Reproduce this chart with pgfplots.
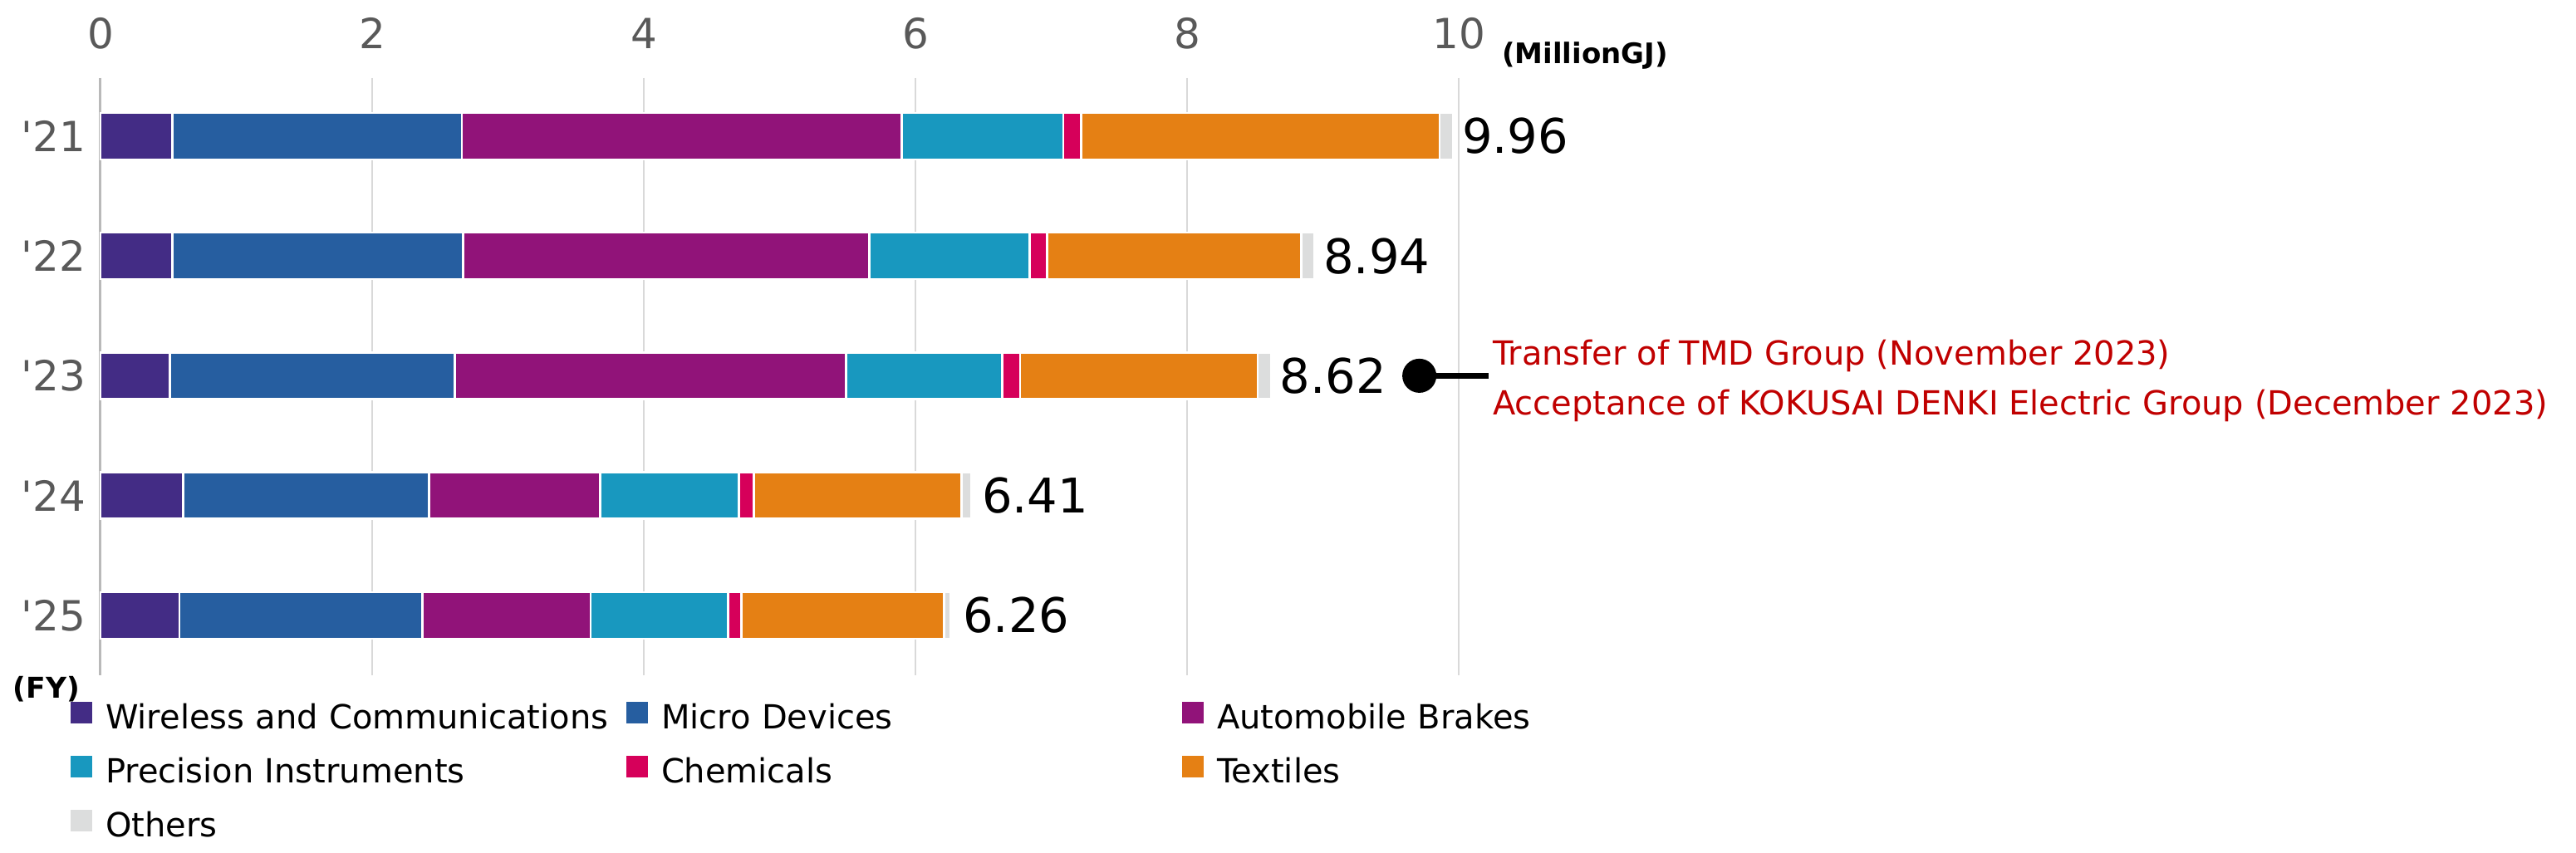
\documentclass[border=0pt]{standalone}
\usepackage{fontspec}
\setmainfont{DejaVu Sans}[Ligatures=TeXOff]
\usepackage{pgfplots}
\usepackage{pgfplotstable}
\pgfplotsset{compat=1.18}

\definecolor{cWC}{RGB}{67,44,133}
\definecolor{cMD}{RGB}{38,94,160}
\definecolor{cAB}{RGB}{145,19,121}
\definecolor{cPI}{RGB}{24,152,191}
\definecolor{cCH}{RGB}{214,0,90}
\definecolor{cTX}{RGB}{229,128,20}
\definecolor{cOT}{RGB}{220,221,221}
\definecolor{tickgray}{RGB}{89,89,89}
\definecolor{gridgray}{RGB}{217,217,217}
\definecolor{annred}{RGB}{192,0,0}

% energy use by segment, million GJ ('21 .. '25)
\pgfplotstableread{
y  wc   md   ab   pi   ch   tx   ot   total
0  0.53 2.13 3.24 1.19 0.13 2.64 0.10 9.96
1  0.53 2.14 2.99 1.18 0.13 1.87 0.10 8.94
2  0.51 2.10 2.88 1.15 0.13 1.75 0.10 8.62
3  0.61 1.81 1.26 1.02 0.11 1.53 0.07 6.41
4  0.58 1.79 1.24 1.01 0.10 1.49 0.05 6.26
}\energy

\pgfplotsset{
  seg/.style={fill=#1, draw=white, line width=0.5pt},
  box/.style={at={(24.2pt,42.8pt)}, anchor=south west, scale only axis,
    width=327pt, height=143.8pt,
    xmin=0, xmax=10, ymin=-0.485, ymax=4.5, y dir=reverse, clip=false},
}

\begin{document}
\begin{tikzpicture}
\useasboundingbox (0,0) rectangle (620.2pt,205.4pt);
\begin{axis}[
  box,
  xbar stacked, bar width=11.2pt,
  xtick={0,2,...,10}, ytick={0,...,4},
  yticklabels={'21,'22,'23,'24,'25},
  axis x line*=top, axis y line*=left,
  x axis line style={draw=none},
  y axis line style={draw=gray!55, line width=0.6pt},
  major tick length=0pt,
  xmajorgrids, major grid style={draw=gridgray, line width=0.5pt},
  /pgf/number format/assume math mode=true,
  xticklabel style={font=\fontsize{10}{12}\selectfont, text=tickgray, yshift=3.5pt},
  yticklabel style={font=\fontsize{10}{12}\selectfont, text=tickgray},
  legend columns=3, legend cell align=left,
  legend image code/.code={\fill[#1, draw=none] (0pt,-1pt) rectangle (5.2pt,4.2pt);},
  legend style={at={(axis description cs:0,0)}, anchor=north west,
    xshift=-7.2pt, yshift=-6.3pt, draw=none, fill=none,
    inner sep=0pt, outer sep=0pt, row sep=4.5pt,
    font=\fontsize{8}{9.6}\selectfont,
    nodes={inner sep=0pt, text width=124pt, text height=6.5pt, text depth=2pt, align=left},
    /tikz/every odd column/.style={column sep=3.2pt},
    /tikz/every even column/.style={column sep=1.4pt}},
]
\addplot[seg=cWC] table[x=wc, y=y] {\energy};
\addlegendentry{Wireless and Communications}
\addplot[seg=cMD] table[x=md, y=y] {\energy};
\addlegendentry{Micro Devices}
\addplot[seg=cAB] table[x=ab, y=y] {\energy};
\addlegendentry{Automobile Brakes}
\addplot[seg=cPI] table[x=pi, y=y] {\energy};
\addlegendentry{Precision Instruments}
\addplot[seg=cCH] table[x=ch, y=y] {\energy};
\addlegendentry{Chemicals}
\addplot[seg=cTX] table[x=tx, y=y] {\energy};
\addlegendentry{Textiles}
\addplot[seg=cOT, point meta=explicit symbolic, nodes near coords,
  nodes near coords style={anchor=west, text=black, inner sep=3.5pt,
    font=\fontsize{11.5}{13}\selectfont}]
  table[x=ot, y=y, meta=total] {\energy};
\addlegendentry{Others}
\end{axis}

% marker for the '23 note
\begin{axis}[box, axis lines=none, ticks=none]
\addplot[black, line width=1.4pt, mark=*, mark size=3.4pt, mark indices={1},
  mark options={fill=black}] coordinates {(9.71,2) (10.22,2)};
\end{axis}

\node[anchor=west, inner sep=0pt, font=\bfseries\fontsize{6.8}{8}\selectfont]
  at (361.4pt,192pt) {(MillionGJ)};
\node[anchor=west, inner sep=0pt, font=\bfseries\fontsize{6.9}{8}\selectfont]
  at (3pt,39.4pt) {(FY)};
\node[anchor=base west, inner sep=0pt, text=annred, font=\fontsize{8}{9.6}\selectfont]
  at (359.2pt,117.4pt) {Transfer of TMD Group (November 2023)};
\node[anchor=base west, inner sep=0pt, text=annred, font=\fontsize{8}{9.6}\selectfont]
  at (359.2pt,105.4pt) {Acceptance of KOKUSAI DENKI Electric Group (December 2023)};
\end{tikzpicture}
\end{document}
